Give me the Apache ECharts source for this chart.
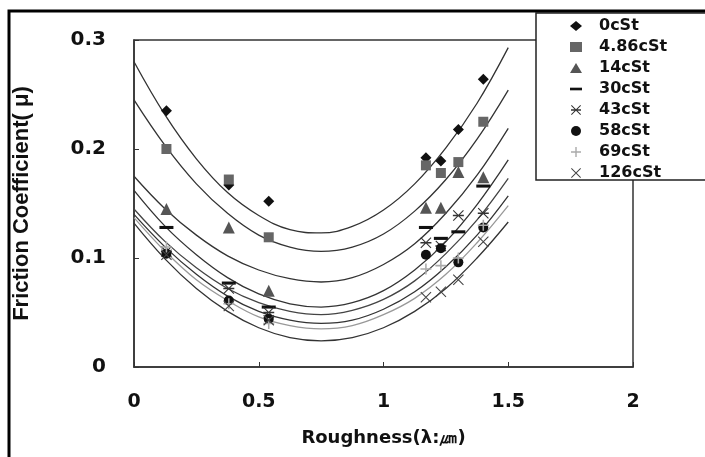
<!DOCTYPE html>
<html>
<head>
<meta charset="utf-8">
<script src="https://cdn.jsdelivr.net/npm/echarts@6/dist/echarts.min.js"></script>
</head>
<body style="margin:0;background:#fff">
<div id="chart" style="width:705px;height:457px;"></div>
<script type="text/javascript">
// Viscosities (legend) and measured roughness positions
var names = ['0cSt', '4.86cSt', '14cSt', '30cSt', '43cSt', '58cSt', '69cSt', '126cSt'];
var roughness = [0.13, 0.38, 0.54, 1.17, 1.23, 1.30, 1.40];

// Measured friction coefficients, one array per oil
var mu0 = [0.235, 0.167, 0.152, 0.192, 0.189, 0.218, 0.264];
var mu486 = [0.200, 0.172, 0.119, 0.185, 0.178, 0.188, 0.225];
var mu14 = [0.145, 0.128, 0.070, 0.146, 0.146, 0.179, 0.174];
var mu30 = [0.128, 0.077, 0.055, 0.128, 0.118, 0.124, 0.166];
var mu43 = [0.106, 0.072, 0.050, 0.114, 0.111, 0.139, 0.141];
var mu58 = [0.104, 0.061, 0.044, 0.103, 0.109, 0.096, 0.128];
var mu69 = [0.110, 0.058, 0.040, 0.090, 0.093, 0.100, 0.130];
var mu126 = [0.103, 0.056, 0.043, 0.064, 0.069, 0.080, 0.115];

// Trend curves
var fitX = [0, 0.125, 0.25, 0.375, 0.5, 0.625, 0.75, 0.875, 1.0, 1.125, 1.25, 1.375, 1.5];
var fit0 = [0.280, 0.231, 0.191, 0.160, 0.139, 0.126, 0.123, 0.129, 0.144, 0.168, 0.201, 0.242, 0.293];
var fit486 = [0.245, 0.203, 0.168, 0.141, 0.121, 0.110, 0.106, 0.110, 0.122, 0.143, 0.172, 0.209, 0.254];
var fit14 = [0.175, 0.145, 0.121, 0.102, 0.089, 0.081, 0.078, 0.082, 0.094, 0.113, 0.141, 0.176, 0.219];
var fit30 = [0.162, 0.129, 0.103, 0.082, 0.067, 0.058, 0.055, 0.059, 0.070, 0.089, 0.115, 0.149, 0.190];
var fit43 = [0.145, 0.115, 0.091, 0.072, 0.059, 0.051, 0.048, 0.052, 0.062, 0.079, 0.104, 0.135, 0.173];
var fit58 = [0.140, 0.110, 0.085, 0.065, 0.051, 0.043, 0.040, 0.043, 0.053, 0.069, 0.092, 0.121, 0.157];
var fit69 = [0.137, 0.106, 0.080, 0.061, 0.046, 0.038, 0.035, 0.038, 0.048, 0.063, 0.085, 0.114, 0.148];
var fit126 = [0.132, 0.099, 0.072, 0.051, 0.036, 0.027, 0.024, 0.027, 0.036, 0.051, 0.072, 0.100, 0.133];

var dashPath = 'path://M0,0H10V2.2H0Z';
var starPath = 'path://M0,4.3H10V5.7H0ZM0.7,0L10,9.3L9.3,10L0,0.7ZM9.3,0L10,0.7L0.7,10L0,9.3Z';
var plusPath = 'path://M4.3,0H5.7V4.3H10V5.7H5.7V10H4.3V5.7H0V4.3H4.3Z';
var crossPath = 'path://M0.7,0L10,9.3L9.3,10L0,0.7ZM9.3,0L10,0.7L0.7,10L0,9.3Z';

var measured = [mu0, mu486, mu14, mu30, mu43, mu58, mu69, mu126];
var fits = [fit0, fit486, fit14, fit30, fit43, fit58, fit69, fit126];
var symbols = ['diamond', 'rect', 'triangle', dashPath, starPath, 'circle', plusPath, crossPath];
var sizes = [11, 10, 12, 14, 11, 10, 11, 11];
var colors = ['#111', '#666', '#555', '#111', '#333', '#111', '#aaa', '#444'];
var curveColors = ['#333', '#333', '#333', '#333', '#444', '#333', '#999', '#333'];

var series = [];
fits.forEach(function (f, k) {
    series.push({
        type: 'line',
        smooth: 0.4,
        showSymbol: false,
        silent: true,
        lineStyle: { color: curveColors[k], width: 1.3 },
        data: fitX.map(function (x, i) { return [x, f[i]]; })
    });
});
measured.forEach(function (m, k) {
    series.push({
        name: names[k],
        type: 'scatter',
        symbol: symbols[k],
        symbolSize: sizes[k],
        symbolKeepAspect: true,
        itemStyle: { color: colors[k], opacity: 1 },
        z: 5,
        data: roughness.map(function (x, i) { return [x, m[i]]; })
    });
});

var boldFont = { fontFamily: 'DejaVu Sans', fontWeight: 'bold', color: '#111' };

var chart = echarts.init(document.getElementById('chart'));
chart.setOption({
    animation: false,
    backgroundColor: '#fff',
    grid: { left: 134, right: 72, top: 40, bottom: 90, show: true, borderColor: '#333', borderWidth: 1.5 },
    xAxis: {
        type: 'value', min: 0, max: 2, interval: 0.5,
        axisLine: { show: true, lineStyle: { color: '#333', width: 1.5 } },
        axisTick: { show: true, inside: true, length: 5, lineStyle: { color: '#333' } },
        splitLine: { show: false },
        axisLabel: Object.assign({ margin: 26, fontSize: 19 }, boldFont),
        name: 'Roughness(λ:㎛)', nameLocation: 'middle', nameGap: 62,
        nameTextStyle: Object.assign({ fontSize: 18 }, boldFont)
    },
    yAxis: {
        type: 'value', min: 0, max: 0.3, interval: 0.1,
        axisLine: { show: true, lineStyle: { color: '#333', width: 1.5 } },
        axisTick: { show: true, inside: true, length: 5, lineStyle: { color: '#333' } },
        splitLine: { show: false },
        axisLabel: Object.assign({
            margin: 28, fontSize: 20,
            formatter: function (v) { return v === 0 ? '0' : v.toFixed(1); }
        }, boldFont),
        name: 'Friction Coefficient( μ)', nameLocation: 'middle', nameGap: 101,
        nameTextStyle: { fontFamily: 'Liberation Sans', fontWeight: 'bold', fontSize: 22, color: '#111' }
    },
    legend: {
        data: names,
        orient: 'vertical', left: 536, top: 13,
        padding: [5, 10, 1, 34], itemGap: 5, itemWidth: 12, itemHeight: 10,
        textStyle: Object.assign({ fontSize: 16, padding: [0, 0, 0, 12] }, boldFont)
    },
    graphic: [{
        // legend box, runs off the right edge like the original
        type: 'rect', z: 3, silent: true,
        shape: { x: 536, y: 13, width: 220, height: 167 },
        style: { fill: '#fff', stroke: '#222', lineWidth: 1.5 }
    }, {
        type: 'rect', z: 100, silent: true,
        shape: { x: 9, y: 11, width: 720, height: 470 },
        style: { fill: 'none', stroke: '#000', lineWidth: 3 }
    }],
    series: series
});
</script>
</body>
</html>
